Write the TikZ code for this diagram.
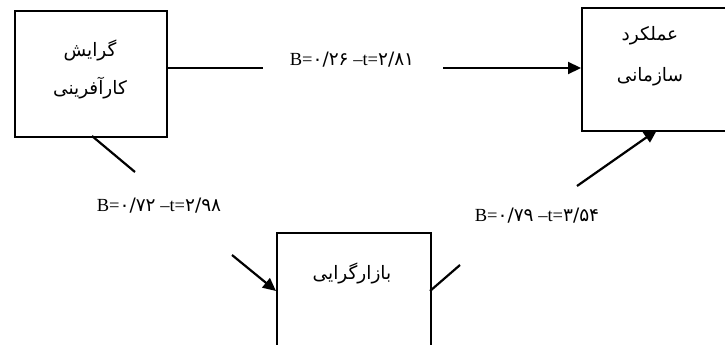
\documentclass[tikz,border=0pt]{standalone}
\usepackage{fontspec}
\setmainfont{Liberation Serif}
\newfontfamily\arabicfont[Script=Arabic]{DejaVu Sans}
\newfontfamily\digfont{DejaVu Sans}
\TeXXeTstate=1
\usetikzlibrary{arrows.meta}
\begin{document}
\begin{tikzpicture}[x=1pt,y=-1pt,
  box/.style={draw,line width=1.8pt,anchor=north west,inner sep=0},
  conn/.style={line width=2.2pt},
  arr/.style={conn,-{Triangle[length=13pt,width=12pt]}},
  lab/.style={font=\fontsize{18.5}{22}\selectfont,inner sep=0},
  fa/.style={font=\arabicfont\fontsize{18.5}{22}\selectfont,inner sep=0}]
\useasboundingbox (0,0) rectangle (725,345);
\clip (0,0) rectangle (725,345);
% boxes
\node[box,minimum width=152pt,minimum height=126pt] (ka) at (14,10) {};
\node[box,minimum width=155pt,minimum height=123pt] (so) at (581,7) {};
\node[box,minimum width=154pt,minimum height=118pt] (ba) at (276,232) {};
% box texts
\node[fa] (t1) at (90,50) {\beginR گرایش\endR};
\node[fa] (t2) at (90,88) {\beginR کارآفرینی\endR};
\node[fa] (t3) at (650,36) {\beginR عملکرد\endR};
\node[fa] (t4) at (650,77) {\beginR سازمانی\endR};
\node[fa] (t5) at (352,273) {\beginR بازارگرایی\endR};
% labels
\node[lab] (l1) at (352,60) {B={\digfont ۰/۲۶} –t={\digfont ۲/۸۱}};
\node[lab] (l2) at (159,206) {B={\digfont ۰/۷۲} –t={\digfont ۲/۹۸}};
\node[lab] (l3) at (537,216) {B={\digfont ۰/۷۹} –t={\digfont ۳/۵۴}};
% connector 1
\coordinate (a1) at (263,68);
\coordinate (a2) at (443,68);
\draw[conn] (ka.east|-a1) -- (a1);
\draw[arr] (a2) -- (so.west|-a2);
% connector 2
\coordinate (b0) at (92,136);
\coordinate (b1) at (135,172);
\coordinate (b2) at (232,255);
\coordinate (b3) at (276,291);
\draw[conn] (b0) -- (b1);
\draw[arr] (b2) -- (b3);
% connector 3
\coordinate (c0) at (430,291);
\coordinate (c1) at (460,265);
\coordinate (c2) at (577,186);
\coordinate (c3) at (657,130);
\draw[conn] (c0) -- (c1);
\draw[arr] (c2) -- (c3);
\end{tikzpicture}
\end{document}
